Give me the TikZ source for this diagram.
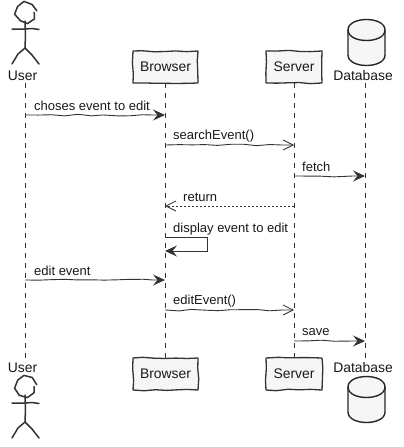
\documentclass[tikz,border=0pt]{standalone}
\usepackage{fontspec}
\setmainfont{Liberation Sans}
\usetikzlibrary{arrows.meta,decorations.pathmorphing}
\definecolor{ink}{HTML}{333333}
\definecolor{boxfill}{HTML}{F6F6F6}
\pgfmathsetseed{11}
\tikzset{
 x=1pt,y=-1pt,
 every node/.style={font=\fontsize{13}{15}\selectfont,text=black!90,inner sep=0pt},
 partfont/.style={font=\fontsize{13.9}{16}\selectfont},
 wavy/.style={decorate,decoration={random steps,segment length=13pt,amplitude=0.9pt,post=lineto,post length=12pt,pre=lineto,pre length=1pt}},
 partbox/.style={draw=ink,fill=boxfill,line width=1.3pt,line join=round,partfont,
   decorate,decoration={random steps,segment length=11pt,amplitude=0.9pt},anchor=center},
 lifeline/.style={draw=ink,line width=0.9pt,dash pattern=on 5pt off 5pt},
 msgfill/.style={draw=ink,line width=0.9pt,wavy,-{Stealth[length=12pt,width=11pt,inset=4.5pt,fill=ink]}},
 msgopen/.style={draw=ink,line width=0.9pt,wavy,-{Straight Barb[length=10pt,width=10pt,line width=0.8pt]}},
 msgret/.style={draw=ink,line width=0.9pt,dash pattern=on 2pt off 2pt,-{Straight Barb[length=10pt,width=10pt,line width=0.8pt,sep=0pt]}},
 msglabel/.style={anchor=west},
 actorline/.style={draw=ink,line width=1.5pt,line cap=round,line join=round},
 actorhead/.style={actorline,decorate,decoration={random steps,segment length=6pt,amplitude=0.6pt}},
 dbline/.style={draw=black!85,line width=1.4pt,fill=boxfill},
}
\begin{document}
\begin{tikzpicture}
\useasboundingbox (0,0) rectangle (404,447);
\fill[white] (0,0) rectangle (404,447);
% lifeline anchors
\node[partfont] (usertop) at (22.5,76) {User};
\node[partfont] (userbot) at (22.5,368) {User};
\node[partfont] (dbtop) at (363,76) {Database};
\node[partfont] (dbbot) at (363,368) {Database};
\coordinate (uA) at (25,83); \coordinate (uB) at (25,358);
\coordinate (bA) at (165,83); \coordinate (bB) at (165,358);
\coordinate (sA) at (294,83); \coordinate (sB) at (294,358);
\coordinate (dA) at (365,83); \coordinate (dB) at (365,358);
\draw[lifeline] (uA) -- (uB);
\draw[lifeline] (bA) -- (bB);
\draw[lifeline] (sA) -- (sB);
\draw[lifeline] (dA) -- (dB);
% boxes
\node[partbox,minimum width=65pt,minimum height=32pt] (browsertop) at (165.5,67) {Browser};
\node[partbox,minimum width=65pt,minimum height=32pt] (browserbot) at (165.5,374) {Browser};
\node[partbox,minimum width=56pt,minimum height=32pt] (servertop) at (294,67) {Server};
\node[partbox,minimum width=56pt,minimum height=32pt] (serverbot) at (294,374) {Server};
% actors
\foreach \t in {0,374}{
 \begin{scope}[yshift=-\t pt]
 \draw[actorhead] (25.7,12.5) circle[radius=8.5];
 \draw[actorline] (25,21) -- (25.5,35) -- (25,48);
 \draw[actorline] (12,29) -- (25,29) -- (32,28.5) -- (39,29.5);
 \draw[actorline] (12,64) -- (18,54) -- (25,48) -- (32,55) -- (39,64);
 \end{scope}
}
% databases
\foreach \t in {0,357}{
 \begin{scope}[yshift=-\t pt]
 \draw[dbline] (348,30) .. controls (348,16) and (385,16) .. (385,30) -- (385,55) .. controls (385,69) and (348,69) .. (348,55) -- cycle;
 \draw[dbline,fill=none] (348,30) .. controls (348,44) and (385,44) .. (385,30);
 \end{scope}
}
% message ends
\coordinate (m1a) at (25,115); \coordinate (m1b) at (165,115);
\coordinate (m2a) at (165,145); \coordinate (m2b) at (294,145);
\coordinate (m3a) at (294,176); \coordinate (m3b) at (365,176);
\coordinate (m4a) at (294,206); \coordinate (m4b) at (165,206);
\coordinate (m5a) at (165,237); \coordinate (m5c) at (207,237); \coordinate (m5d) at (207,251); \coordinate (m5b) at (165,251);
\coordinate (m6a) at (25,280); \coordinate (m6b) at (165,280);
\coordinate (m7a) at (165,310); \coordinate (m7b) at (294,310);
\coordinate (m8a) at (294,341); \coordinate (m8b) at (365,341);
\draw[msgfill] (m1a) -- (m1b);
\draw[msgopen] (m2a) -- (m2b);
\draw[msgfill] (m3a) -- (m3b);
\draw[msgret] (m4a) -- (m4b);
\draw[draw=ink,line width=0.9pt,-{Stealth[length=12pt,width=11pt,inset=4.5pt,fill=ink]}] (m5a) -- (m5c) -- (m5d) -- (m5b);
\draw[msgfill] (m6a) -- (m6b);
\draw[msgopen] (m7a) -- (m7b);
\draw[msgfill] (m8a) -- (m8b);
% labels
\node[msglabel] (l1) at (34,106) {choses event to edit};
\node[msglabel] (l2) at (173,136) {searchEvent()};
\node[msglabel] (l3) at (302,167) {fetch};
\node[msglabel] (l4) at (183,197) {return};
\node[msglabel] (l5) at (173,229) {display event to edit};
\node[msglabel] (l6) at (34,271) {edit event};
\node[msglabel] (l7) at (173,301) {editEvent()};
\node[msglabel] (l8) at (302,332) {save};
\end{tikzpicture}
\end{document}
